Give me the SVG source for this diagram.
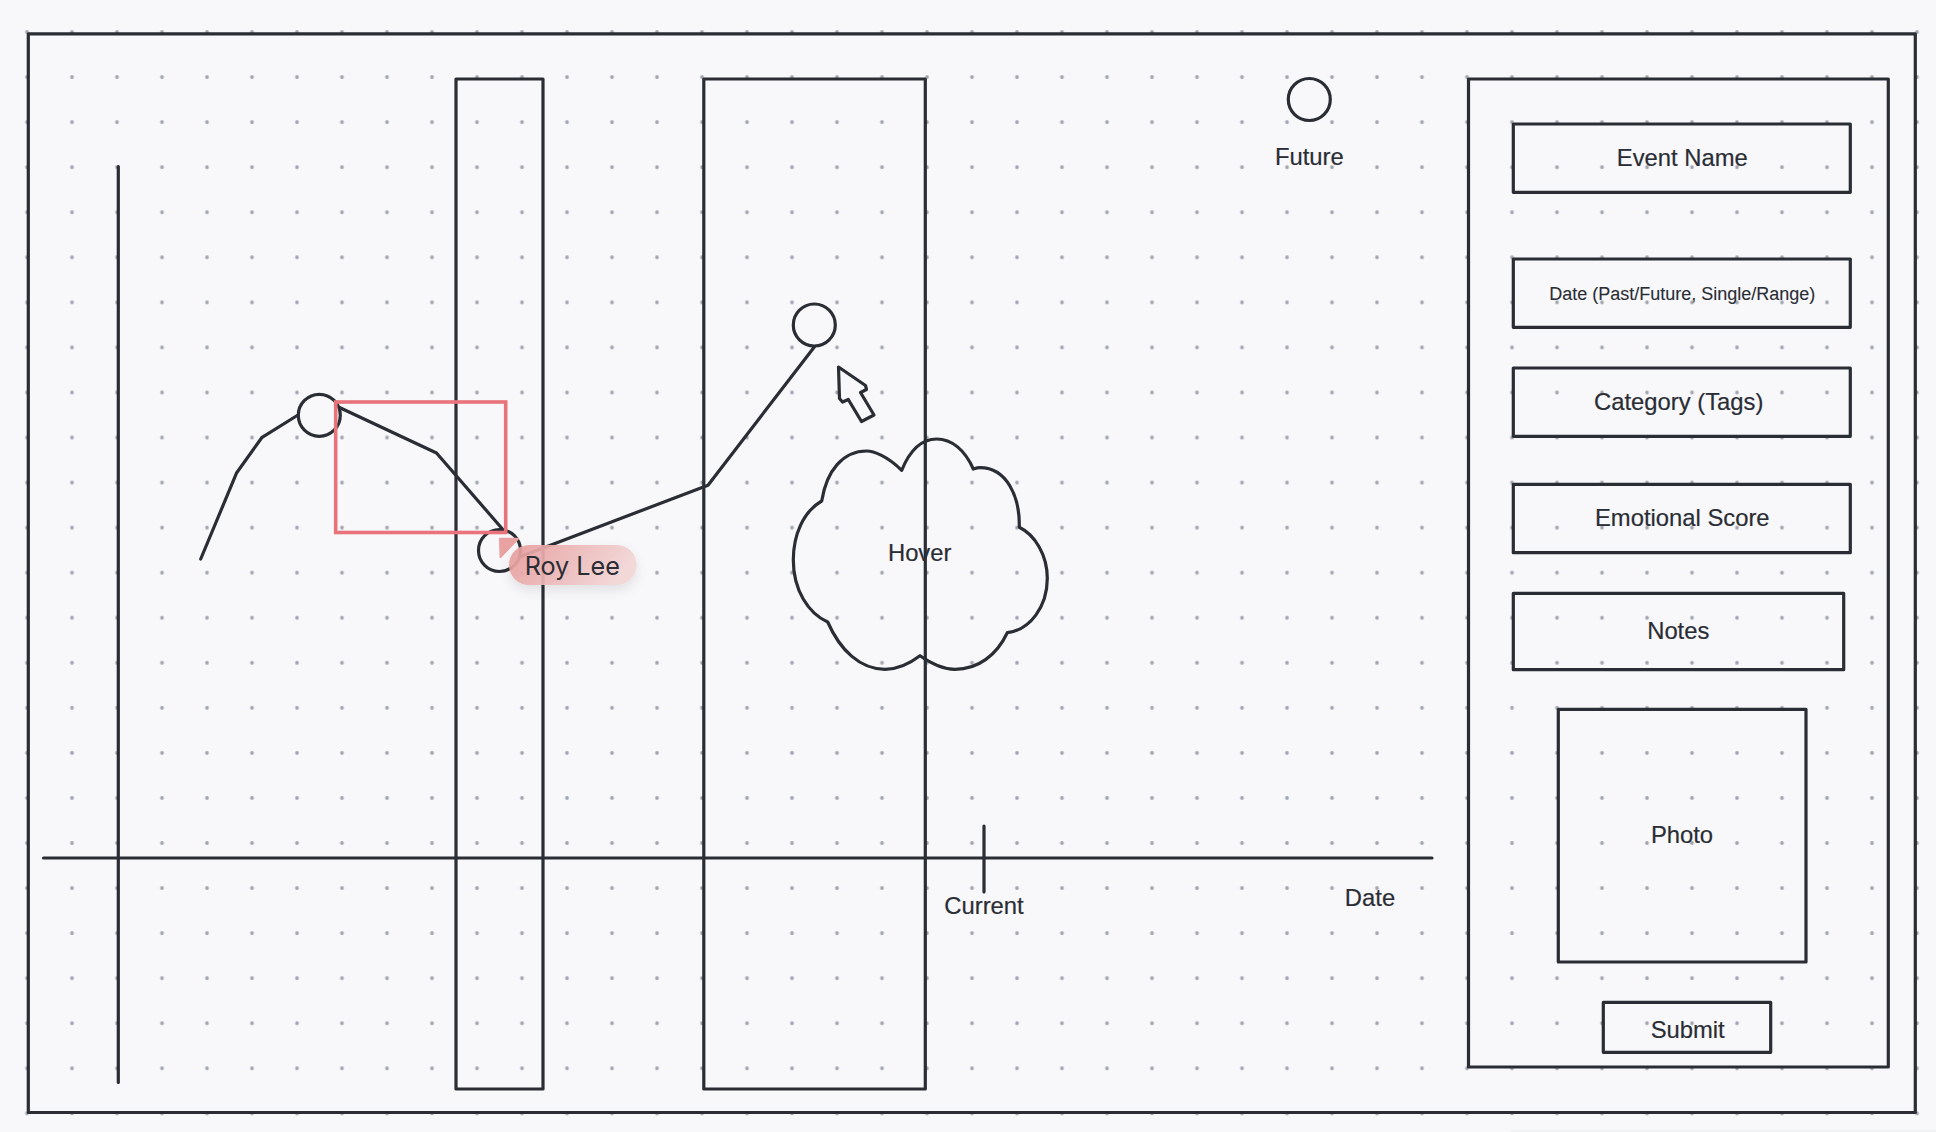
<svg xmlns="http://www.w3.org/2000/svg" width="1936" height="1132" viewBox="0 0 1936 1132">
<style>
.s{fill:none;stroke:#2a2d34;stroke-width:3.2;stroke-linejoin:round}
.l{fill:none;stroke:#2a2d34;stroke-width:3.2;stroke-linejoin:round;stroke-linecap:round}
text{font-family:"Liberation Sans",Arial,sans-serif;font-size:23.8px;fill:#2a2d34;stroke:#2a2d34;stroke-width:.2;text-anchor:middle}
</style>
<defs>
<pattern id="dots" patternUnits="userSpaceOnUse" x="4.5" y="9.5" width="45" height="45.055">
<circle cx="22.5" cy="22.5" r="1.9" fill="#a2a5ae"/>
</pattern>
<linearGradient id="tip" x1="0" y1="0" x2="1" y2="0.25">
<stop offset="0" stop-color="#e79a9a"/>
<stop offset="1" stop-color="#f3d6d6"/>
</linearGradient>
<filter id="shadow" x="-20%" y="-40%" width="140%" height="200%">
<feDropShadow dx="0" dy="5" stdDeviation="6" flood-color="#000" flood-opacity=".1"/>
</filter>
</defs>
<rect width="1936" height="1132" fill="#f8f8fb"/>
<rect x="1510" y="1130" width="426" height="2" fill="#f1f2f4"/>
<rect x="24" y="29" width="1896" height="1088" fill="url(#dots)"/>
<g id="frame"><rect class="s" x="28.3" y="33.8" width="1887" height="1078.7"/></g>
<g id="column-1"><rect class="s" x="456" y="79" width="87" height="1010"/></g>
<g id="column-2"><rect class="s" x="703.8" y="79" width="221.5" height="1010"/></g>
<g id="axes">
<line class="l" x1="118.3" y1="166.5" x2="118.3" y2="1082.5"/>
<line class="l" x1="43.5" y1="858" x2="1432" y2="858"/>
</g>
<g id="current-tick">
<line class="l" x1="984" y1="826" x2="984" y2="892"/>
<text x="984" y="913.5">Current</text>
</g>
<g id="date-label"><text x="1370" y="905.5">Date</text></g>
<g id="connectors">
<polyline class="l" points="200.7,559 236.7,472.7 261.7,437.7 298,415"/>
<polyline class="l" points="340,407.7 436.5,453 503.3,530"/>
<polyline class="l" points="519.5,557 708,485.2 814.3,347"/>
</g>
<g id="point-1"><circle class="s" cx="319.3" cy="415.3" r="21"/></g>
<g id="point-3"><circle class="s" cx="499.5" cy="550.5" r="21"/></g>
<g id="point-2"><circle class="s" cx="814.3" cy="325" r="21"/></g>
<g id="point-future">
<circle class="s" cx="1309.3" cy="99.5" r="21"/>
<text x="1309.3" y="164.8">Future</text>
</g>
<g id="selection"><rect x="335.7" y="402" width="170" height="130.5" fill="none" stroke="#e8737b" stroke-width="3.6"/></g>
<g id="cursor"><path class="s" d="M838.5 367 L865.5 385.5 L866.5 389.5 L860.5 392.5 L874 415 L861.5 421.5 L848.3 399.5 L842.5 402 L839.5 398.5 Z"/></g>
<g id="hover-cloud">
<path class="s" d="M901.7 470.3C886.7 455.7 873.3 451 866.7 451C843.3 451 826.7 470 821.7 501C803.3 511.7 793.3 535 793.3 560C793.3 590 808.3 613.3 827.7 622C840 650 860 669.3 885 669.3C898.3 669.3 910 663.3 920 655.7C933.3 665 943.3 669.3 955 669.3C978.3 669.3 996.7 655 1007.3 632.7C1030 630 1047.3 606.7 1047.3 578.3C1047.3 555 1035 535 1019.3 527.3C1020 496.7 1006.7 467.7 980 467.7C978.3 467.7 975.7 468.3 973.3 469C965 450 951.7 439 936.7 439C921.7 439 910 450 901.7 470.3Z"/>
<text x="919.7" y="561">Hover</text>
</g>
<g id="tooltip">
<path d="M500 538.7H518L500.5 557Z" fill="#e9a1a1" stroke="#e9a1a1" stroke-width="2" stroke-linejoin="round"/>
<rect x="509" y="545" width="127.7" height="40" rx="20" fill="url(#tip)" fill-opacity=".92" filter="url(#shadow)"/>
<text x="572.3" y="574.5" style="font-family:Inter,'Liberation Sans',sans-serif;font-size:25.2px;stroke-width:0">Roy Lee</text>
</g>
<g id="panel"><rect class="s" x="1468.5" y="79" width="419.8" height="988"/></g>
<g id="field-event"><rect class="s" x="1513.3" y="124" width="337" height="68.3"/><text x="1682.3" y="165.5">Event Name</text></g>
<g id="field-date"><rect class="s" x="1513.3" y="259" width="337" height="68.3"/><text x="1682.3" y="300.3" style="font-size:18px;stroke-width:.1">Date (Past/Future, Single/Range)</text></g>
<g id="field-category"><rect class="s" x="1513.3" y="368" width="337" height="68.3"/><text x="1678.7" y="410">Category (Tags)</text></g>
<g id="field-score"><rect class="s" x="1513.3" y="484.3" width="337" height="68.4"/><text x="1682.3" y="526">Emotional Score</text></g>
<g id="field-notes"><rect class="s" x="1513.3" y="593.3" width="330.4" height="76.4"/><text x="1678.3" y="638.8">Notes</text></g>
<g id="field-photo"><rect class="s" x="1558.3" y="709.3" width="247.7" height="252.7"/><text x="1682" y="843.3">Photo</text></g>
<g id="submit"><rect class="s" x="1603.3" y="1002.3" width="167.4" height="50"/><text x="1687.7" y="1037.8">Submit</text></g>
</svg>
